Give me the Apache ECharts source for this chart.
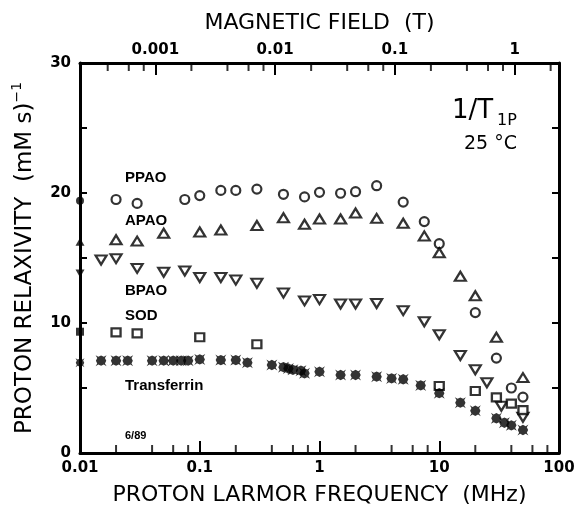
<!DOCTYPE html>
<html><head><meta charset="utf-8">
<script src="https://cdn.jsdelivr.net/npm/echarts@6/dist/echarts.min.js"></script>
<style>html,body{margin:0;padding:0;background:#fff}#c{width:574px;height:509px}</style>
</head><body><div id="c"></div>
<script>
// ---- data (frequency in MHz, relaxivity in (mM s)^-1) ----
const ppaoFreq = [0.02,0.03,0.075,0.1,0.15,0.2,0.3,0.5,0.75,1,1.5,2,3,5,7.5,10,20,30,40,50];
const ppaoR    = [19.5,19.2,19.5,19.8,20.2,20.2,20.3,19.9,19.7,20.05,19.98,20.1,20.56,19.3,17.8,16.1,10.8,7.3,5.0,4.3];
const apaoFreq = [0.02,0.03,0.05,0.1,0.15,0.3,0.5,0.75,1,1.5,2,3,5,7.5,10,15,20,30,50];
const apaoR    = [16.4,16.3,16.9,17.0,17.15,17.5,18.1,17.6,18.0,18.0,18.46,18.05,17.67,16.7,15.4,13.6,12.1,8.9,5.8];
const bpaoFreq = [0.015,0.02,0.03,0.05,0.075,0.1,0.15,0.2,0.3,0.5,0.75,1,1.5,2,3,5,7.5,10,15,20,25,33,50];
const bpaoR    = [14.85,14.95,14.2,13.9,14.0,13.5,13.5,13.3,13.05,12.3,11.7,11.8,11.46,11.46,11.5,10.95,10.1,9.1,7.5,6.4,5.4,3.6,2.75];
const sodFreq  = [0.02,0.03,0.1,0.3,10,20,30,40,50];
const sodR     = [9.28,9.2,8.9,8.36,5.15,4.77,4.28,3.8,3.3];
const trfFreq  = [0.015,0.02,0.025,0.04,0.05,0.06,0.07,0.08,0.1,0.15,0.2,0.25,0.4,0.5,0.55,0.6,0.7,0.75,1,1.5,2,3,4,5,7,10,15,20,30,35,40,50];
const trfR     = [7.1,7.1,7.1,7.1,7.1,7.1,7.1,7.1,7.2,7.15,7.15,6.95,6.77,6.6,6.5,6.4,6.33,6.13,6.25,6.0,6.0,5.87,5.74,5.67,5.2,4.6,3.87,3.25,2.67,2.33,2.13,1.77];
// filled points on the left axis (lowest field)
const axisFreq = 0.01;
const ppaoAxisR = 19.4, apaoAxisR = 16.25, bpaoAxisR = 13.8, sodAxisR = 9.33, trfAxisR = 6.95;
// axis ranges / ticks
const freqMin = 0.01, freqMax = 100;
const MHZ_PER_T = 42.58;
const relaxMin = 0, relaxMax = 30, relaxStep = 5, relaxLabelStep = 10;
const freqMinorTicks = [0.02,0.04,0.06,0.08,0.2,0.4,0.6,0.8,2,4,6,8,20,40,60,80];
const fieldMinorTicks = [0.0004,0.0006,0.0008,0.002,0.004,0.006,0.008,0.02,0.04,0.06,0.08,0.2,0.4,0.6,0.8,2];
const labels = ['PPAO','APAO','BPAO','SOD','Transferrin','6/89'];

const pts = (f, r) => f.map((x, i) => [x, r[i]]);
const decadeFmt = v => {
  const l = Math.log10(v);
  if (Math.abs(l - Math.round(l)) > 1e-6) return '';
  return String(Number(Math.pow(10, Math.round(l)).toPrecision(1)));
};
const openStyle = {color: '#fff', borderColor: '#000', borderWidth: 2.2};
const fillStyle = {color: '#000', borderColor: '#000', borderWidth: 0};
const star = 'path://M0,0L2.5,1.5L5,0.3L7.5,1.5L10,0L8.5,2.5L9.7,5L8.5,7.5L10,10L7.5,8.5L5,9.7L2.5,8.5L0,10L1.5,7.5L0.3,5L1.5,2.5Z';
const tickFont = {fontFamily: 'DejaVu Sans', fontSize: 15, fontWeight: 'bold', color: '#000'};
const nameFont = {fontFamily: 'DejaVu Sans', fontSize: 22, color: '#000'};
const lblFont = 'bold 15px "Liberation Sans"';

function sc(name, data, symbol, size, style, rot) {
  return {type: 'scatter', name, data, symbol, symbolSize: size, symbolRotate: rot || 0,
    itemStyle: style, clip: false, silent: true, z: 3};
}
const axisLineStyle = {show: true, onZero: false, lineStyle: {color: '#000', width: 3}};

const chart = echarts.init(document.getElementById('c'), null, {renderer: 'canvas'});
chart.setOption({
  backgroundColor: '#fff',
  animation: false,
  grid: {left: 80, right: 15, top: 63, bottom: 56, outerBoundsMode: 'none', containLabel: false},
  xAxis: [{
    type: 'log', logBase: 10, min: freqMin, max: freqMax, position: 'bottom',
    name: 'PROTON LARMOR FREQUENCY  (MHz)', nameLocation: 'middle', nameGap: 31,
    nameTextStyle: nameFont,
    axisLine: axisLineStyle,
    axisTick: {show: true, inside: true, length: 12, lineStyle: {color: '#000', width: 2}},
    axisLabel: Object.assign({margin: 8, formatter: decadeFmt, showMinLabel: true, showMaxLabel: true}, tickFont),
    splitLine: {show: false}, minorTick: {show: false}
  }, {
    type: 'log', logBase: 10, min: freqMin / MHZ_PER_T, max: freqMax / MHZ_PER_T, position: 'top',
    name: 'MAGNETIC FIELD  (T)', nameLocation: 'middle', nameGap: 29,
    nameTextStyle: nameFont,
    axisLine: axisLineStyle,
    axisTick: {show: true, inside: true, length: 12, lineStyle: {color: '#000', width: 2}},
    axisLabel: Object.assign({margin: 5, formatter: decadeFmt}, tickFont),
    splitLine: {show: false}
  }],
  yAxis: [{
    type: 'value', min: relaxMin, max: relaxMax, interval: relaxStep, position: 'left',
    name: '{t|PROTON RELAXIVITY  (mM s)}{s|−1}', nameLocation: 'middle', nameGap: 40,
    nameTextStyle: Object.assign({}, nameFont, {rich: {
      t: {fontFamily: 'DejaVu Sans', fontSize: 23, color: '#000', lineHeight: 30},
      s: {fontFamily: 'DejaVu Sans', fontSize: 14, color: '#000', verticalAlign: 'top', lineHeight: 30}
    }}),
    axisLine: axisLineStyle,
    axisTick: {show: true, inside: true, length: 7, lineStyle: {color: '#000', width: 2}},
    axisLabel: Object.assign({margin: 9, formatter: v => (v % relaxLabelStep === 0 ? String(v) : '')}, tickFont),
    splitLine: {show: false}
  }, {
    type: 'value', min: relaxMin, max: relaxMax, interval: relaxStep, position: 'right',
    axisLine: axisLineStyle,
    axisTick: {show: true, inside: true, length: 7, lineStyle: {color: '#000', width: 2}},
    axisLabel: {show: false}, splitLine: {show: false}
  }],
  series: [
    // minor ticks drawn through the axis scales
    {type: 'scatter', xAxisIndex: 0, yAxisIndex: 0, data: freqMinorTicks.map(t => [t, relaxMin]),
      symbol: 'rect', symbolSize: [2, 8], symbolOffset: [0, -4], itemStyle: {color: '#000'}, clip: false, silent: true, z: 1},
    {type: 'scatter', xAxisIndex: 1, yAxisIndex: 0, data: fieldMinorTicks.map(t => [t, relaxMax]),
      symbol: 'rect', symbolSize: [2, 8], symbolOffset: [0, 4], itemStyle: {color: '#000'}, clip: false, silent: true, z: 1},
    sc('PPAO', pts(ppaoFreq, ppaoR), 'circle', 9, openStyle),
    sc('APAO', pts(apaoFreq, apaoR), 'triangle', [11, 9], openStyle),
    sc('BPAO', pts(bpaoFreq, bpaoR), 'triangle', [11, 9], openStyle, 180),
    sc('SOD', pts(sodFreq, sodR), 'rect', [9, 8], openStyle),
    sc('Transferrin', pts(trfFreq, trfR), star, 11, fillStyle),
    sc('PPAO0', [[axisFreq, ppaoAxisR]], 'circle', 8, fillStyle),
    sc('APAO0', [[axisFreq, apaoAxisR]], 'triangle', [9, 8], fillStyle),
    sc('BPAO0', [[axisFreq, bpaoAxisR]], 'triangle', [9, 8], fillStyle, 180),
    sc('SOD0', [[axisFreq, sodAxisR]], 'rect', [8, 8], fillStyle),
    sc('TRF0', [[axisFreq, trfAxisR]], star, 9, fillStyle)
  ],
  graphic: [
    {type: 'text', x: 125, y: 178, style: {text: labels[0], font: lblFont, fill: '#000', verticalAlign: 'middle'}},
    {type: 'text', x: 125, y: 221, style: {text: labels[1], font: lblFont, fill: '#000', verticalAlign: 'middle'}},
    {type: 'text', x: 125, y: 291, style: {text: labels[2], font: lblFont, fill: '#000', verticalAlign: 'middle'}},
    {type: 'text', x: 125, y: 316, style: {text: labels[3], font: lblFont, fill: '#000', verticalAlign: 'middle'}},
    {type: 'text', x: 125, y: 386, style: {text: labels[4], font: lblFont, fill: '#000', verticalAlign: 'middle'}},
    {type: 'text', x: 125, y: 436, style: {text: labels[5], font: 'bold 11px "Liberation Sans"', fill: '#000', verticalAlign: 'middle'}},
    {type: 'text', x: 452, y: 111, style: {text: '1/T', font: '26px "DejaVu Sans"', fill: '#000', verticalAlign: 'middle'}},
    {type: 'text', x: 497, y: 121, style: {text: '1P', font: '16px "DejaVu Sans"', fill: '#000', verticalAlign: 'middle'}},
    {type: 'text', x: 464, y: 144, style: {text: '25 °C', font: '19px "DejaVu Sans"', fill: '#000', verticalAlign: 'middle'}}
  ]
});
</script></body></html>
